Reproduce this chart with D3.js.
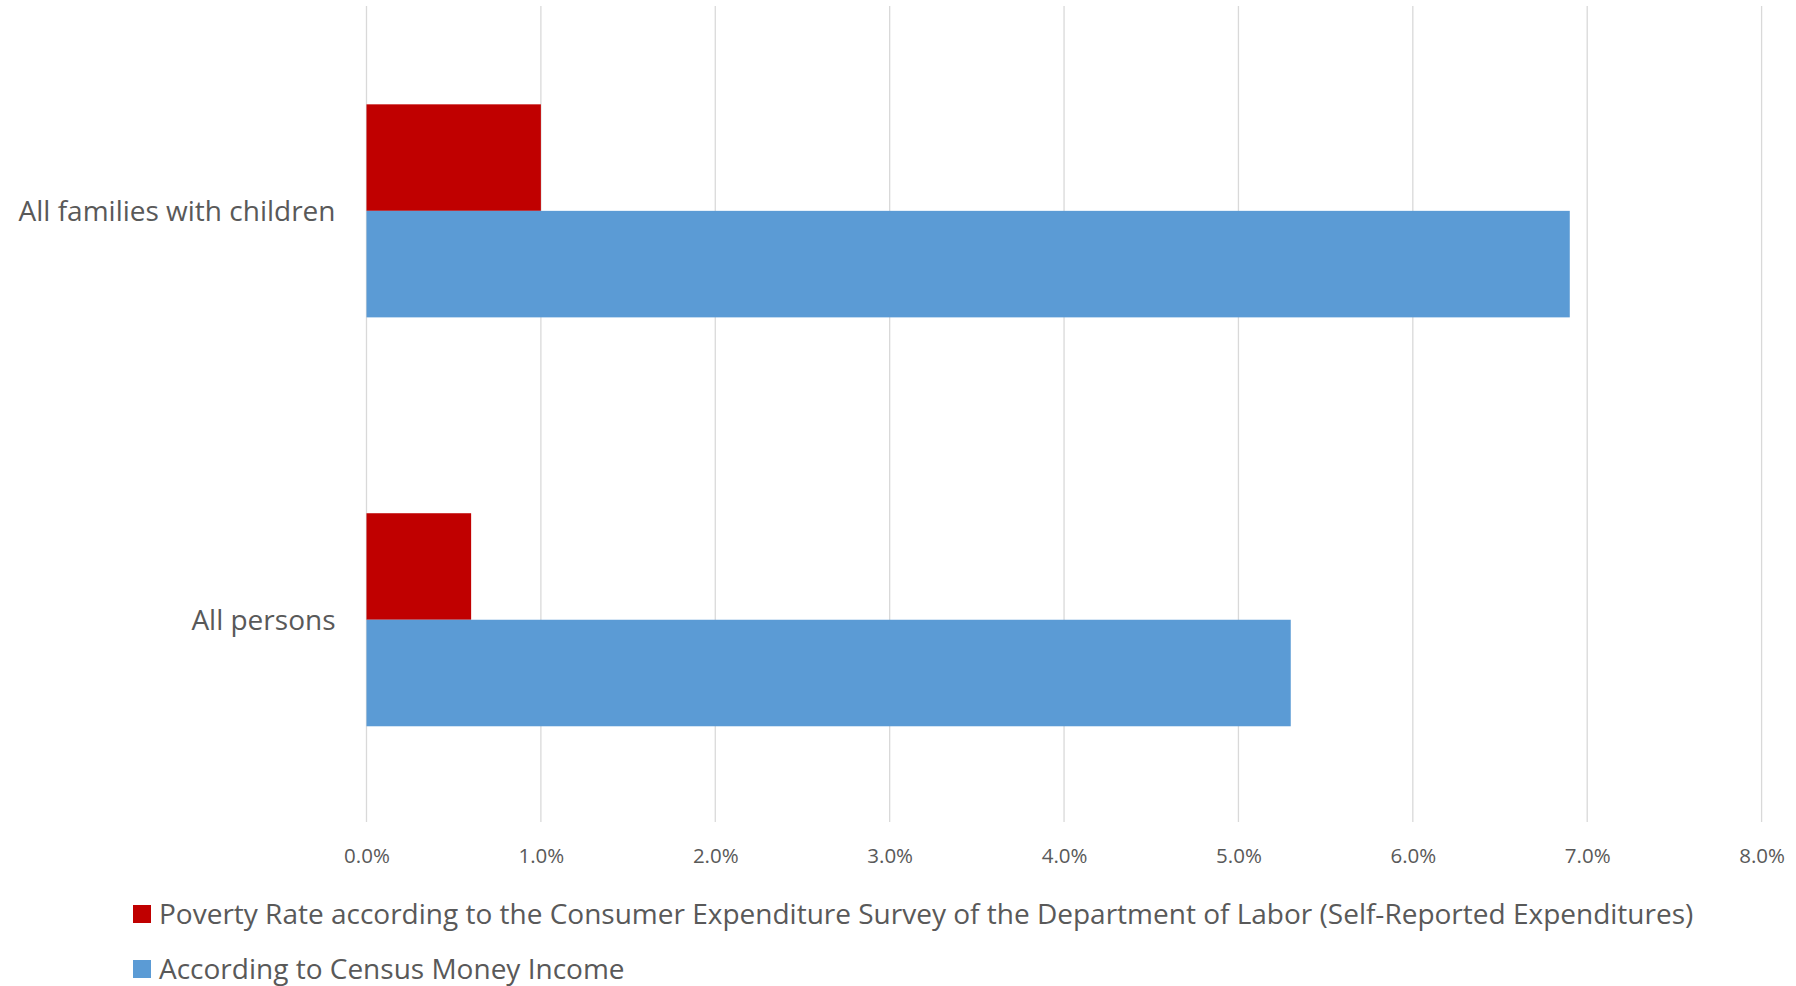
<!DOCTYPE html>
<html>
<head>
<meta charset="utf-8">
<script src="https://cdn.jsdelivr.net/npm/d3@7"></script>
<style>
  html, body { margin: 0; padding: 0; background: #ffffff; }
  svg { display: block; }
  text { font-family: "Open Sans", "Noto Sans", sans-serif; fill: #595959; }
</style>
</head>
<body>
<svg id="chart" width="1796" height="986"></svg>
<script>
// Categories, top to bottom
const categories = ["All families with children", "All persons"];

// Series names (legend order) and colours
const seriesNames = [
  "Poverty Rate according to the Consumer Expenditure Survey of the Department of Labor (Self-Reported Expenditures)",
  "According to Census Money Income"
];
const seriesColors = ["#c00000", "#5b9bd5"];

// Values per series, aligned with categories (fractions)
const expenditureRate = [0.010, 0.006];
const censusIncomeRate = [0.069, 0.053];

// Axis ticks
const xTicks = [0, 0.01, 0.02, 0.03, 0.04, 0.05, 0.06, 0.07, 0.08];

const seriesValues = [expenditureRate, censusIncomeRate];

const svg = d3.select("#chart");
const plot = { left: 366.5, right: 1761.6, top: 6, bottom: 822 };

const x = d3.scaleLinear().domain([0, 0.08]).range([plot.left, plot.right]);
const y = d3.scaleBand()
  .domain(categories)
  .range([6.4, 824.2])
  .paddingInner(0.479)
  .paddingOuter(0.2395);
const ySub = d3.scaleBand().domain(seriesNames).range([0, y.bandwidth()]);

// Vertical gridlines
svg.append("g")
  .selectAll("line")
  .data(xTicks)
  .join("line")
  .attr("x1", d => x(d)).attr("x2", d => x(d))
  .attr("y1", plot.top).attr("y2", plot.bottom)
  .attr("stroke", "#d9d9d9")
  .attr("stroke-width", 1.3);

// Tick labels
const xAxis = d3.axisBottom(x)
  .tickValues(xTicks)
  .tickFormat(d3.format(".1%"))
  .tickSize(0)
  .tickPadding(0);
const gx = svg.append("g")
  .attr("transform", `translate(0, ${plot.bottom + 26})`)
  .call(xAxis);
gx.select(".domain").remove();
gx.selectAll("text")
  .attr("fill", "#595959")
  .style("font-size", "20.5px")
  .attr("dy", "0.71em");

// Bars
const rows = categories.map((c, i) => ({
  category: c,
  values: seriesNames.map((s, j) => ({ series: s, color: seriesColors[j], value: seriesValues[j][i] }))
}));

const groups = svg.append("g")
  .selectAll("g")
  .data(rows)
  .join("g")
  .attr("transform", d => `translate(0, ${y(d.category)})`);

groups.selectAll("rect")
  .data(d => d.values)
  .join("rect")
  .attr("x", x(0))
  .attr("y", d => ySub(d.series))
  .attr("width", d => x(d.value) - x(0))
  .attr("height", ySub.bandwidth())
  .attr("fill", d => d.color);

// Category labels
svg.append("g")
  .selectAll("text")
  .data(categories)
  .join("text")
  .attr("x", plot.left - 31)
  .attr("y", d => y(d) + y.bandwidth() / 2)
  .attr("dy", "0.35em")
  .attr("text-anchor", "end")
  .style("font-size", "28px")
  .text(d => d);

// Legend
const legend = svg.append("g")
  .selectAll("g")
  .data(seriesNames.map((s, j) => ({ name: s, color: seriesColors[j] })))
  .join("g")
  .attr("transform", (d, i) => `translate(133, ${914 + i * 55})`);

legend.append("rect")
  .attr("x", 0).attr("y", -9)
  .attr("width", 18).attr("height", 18)
  .attr("fill", d => d.color);

legend.append("text")
  .attr("x", 26)
  .attr("y", 0)
  .attr("dy", "0.35em")
  .style("font-size", "28px")
  .text(d => d.name);
</script>
</body>
</html>
